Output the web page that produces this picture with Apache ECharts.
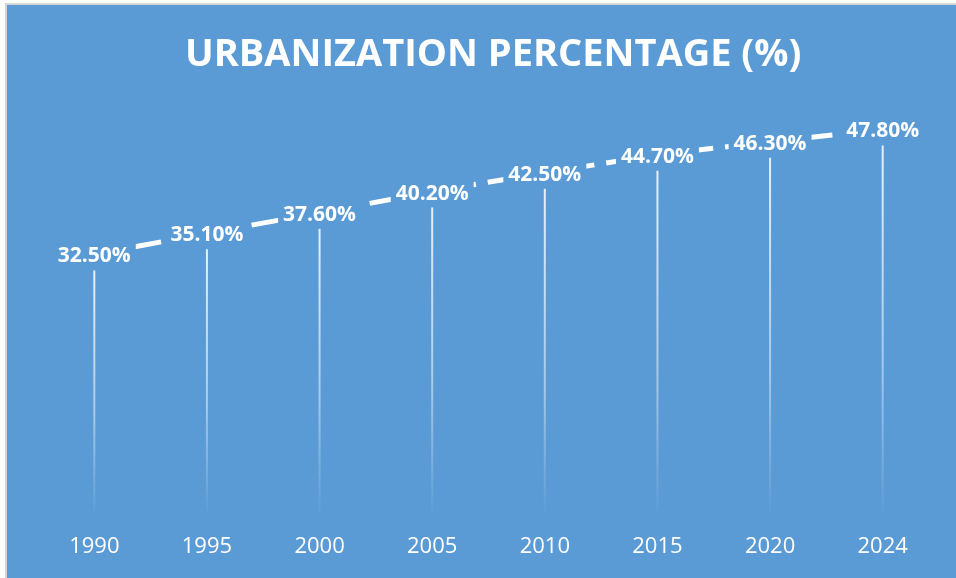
<!DOCTYPE html>
<html>
<head>
<meta charset="utf-8">
<script src="https://cdn.jsdelivr.net/npm/echarts@6/dist/echarts.min.js"></script>
<style>
  html, body { margin: 0; padding: 0; background: #ffffff; }
  #chart { width: 956px; height: 578px; }
</style>
</head>
<body>
<div id="chart"></div>
<script>
// Urbanization share by year (%)
const years = ['1990', '1995', '2000', '2005', '2010', '2015', '2020', '2024'];
const urbanization = [32.5, 35.1, 37.6, 40.2, 42.5, 44.7, 46.3, 47.8];

const BG = '#5B9BD5';
const chart = echarts.init(document.getElementById('chart'));

chart.setOption({
  backgroundColor: '#ffffff',
  animation: false,
  graphic: [
    { type: 'rect', z: -10, shape: { x: 7, y: 5, width: 949, height: 573 }, style: { fill: BG } },
    { type: 'rect', z: -10, shape: { x: 5, y: 3, width: 951, height: 2 }, style: { fill: '#d6d6d6' } },
    { type: 'rect', z: -10, shape: { x: 5, y: 3, width: 2, height: 575 }, style: { fill: '#d6d6d6' } }
  ],
  title: {
    text: 'URBANIZATION PERCENTAGE (%)',
    left: 180,
    top: 31,
    textStyle: {
      color: '#ffffff',
      fontFamily: 'Open Sans',
      fontWeight: 'bold',
      fontSize: 38
    }
  },
  grid: { left: 38, right: 17, top: 111.5, bottom: 58 },
  xAxis: {
    type: 'category',
    data: years,
    boundaryGap: true,
    axisLine: { show: false },
    axisTick: { show: false },
    axisLabel: {
      color: '#ffffff',
      fontFamily: 'Open Sans',
      fontSize: 22,
      margin: 16
    }
  },
  yAxis: {
    type: 'value',
    min: 0,
    max: 50,
    show: false,
    splitLine: { show: false }
  },
  series: [
    {
      // drop lines from each point down to the axis, fading out
      type: 'custom',
      z: 1,
      data: urbanization.map((v, i) => [i, v]),
      renderItem: function (params, api) {
        const top = api.coord([api.value(0), api.value(1)]);
        const base = api.coord([api.value(0), 0]);
        const y1 = top[1] + 16;
        const y2 = base[1] - 4;
        return {
          type: 'line',
          shape: { x1: top[0], y1: y1, x2: base[0], y2: y2 },
          style: {
            lineWidth: 2,
            stroke: {
              type: 'linear', global: true,
              x: 0, y: y1, x2: 0, y2: y2,
              colorStops: [
                { offset: 0, color: 'rgba(255,255,255,0.85)' },
                { offset: 0.6, color: 'rgba(255,255,255,0.45)' },
                { offset: 1, color: 'rgba(255,255,255,0)' }
              ]
            }
          }
        };
      }
    },
    {
      type: 'line',
      z: 3,
      data: urbanization,
      showSymbol: true,
      symbolSize: 0,
      lineStyle: { color: '#ffffff', width: 5, type: [28, 12] },
      label: {
        show: true,
        position: 'inside',
        offset: [0, 2],
        color: '#ffffff',
        fontFamily: 'Open Sans',
        fontWeight: 'bold',
        fontSize: 21,
        backgroundColor: BG,
        padding: [2, 5],
        formatter: p => p.value.toFixed(2) + '%'
      }
    }
  ]
});
</script>
</body>
</html>
